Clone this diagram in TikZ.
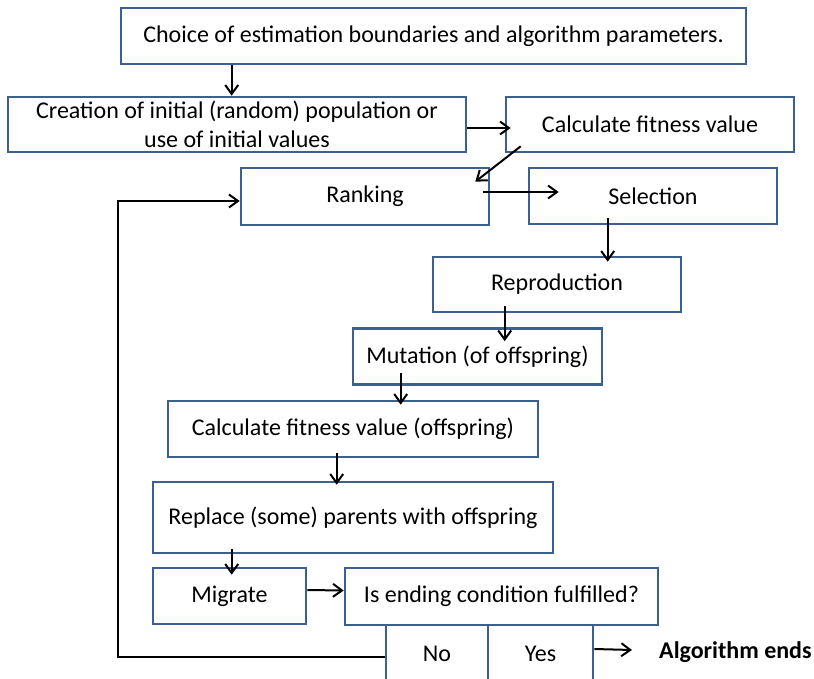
\documentclass[tikz,border=0pt]{standalone}
\usepackage{fontspec}
\setmainfont{Carlito}
\definecolor{flowblue}{HTML}{3C6090}
\usetikzlibrary{arrows.meta, positioning}

\begin{document}
\begin{tikzpicture}[x=1pt, y=-1pt, font=\fontsize{24}{29}\selectfont,
  flowbox/.style={rectangle, draw=flowblue, line width=2.6pt, fill=white,
    align=center, inner sep=0pt},
  flowarrow/.style={-{Straight Barb[length=9pt, width=13pt]}, line width=2pt}]
\useasboundingbox[fill=white] (0,0) rectangle (814,679);
% boxes
\node[flowbox, minimum width=625, minimum height=56] (choice) at (433.5,36)
  {Choice of estimation boundaries and algorithm parameters.};
\node[flowbox, minimum width=458, minimum height=55] (creation) at (237,124.5)
  {Creation of initial (random) population or\\use of initial values};
\node[flowbox, minimum width=288, minimum height=55] (fitness) at (650,124.5)
  {Calculate fitness value};
\node[flowbox, minimum width=248, minimum height=57] (ranking) at (365,196.5)
  {Ranking};
\node[flowbox, minimum width=248, minimum height=56] (selection) at (653,196)
  {Selection};
\node[flowbox, minimum width=248, minimum height=55] (reproduction) at (557,284.5)
  {Reproduction};
\node[flowbox, minimum width=249, minimum height=56] (mutation) at (477.5,356.5)
  {Mutation (of offspring)};
\node[flowbox, minimum width=370, minimum height=56] (offfitness) at (353,429)
  {Calculate fitness value (offspring)};
\node[flowbox, minimum width=400, minimum height=71] (replace) at (353,517.5)
  {Replace (some) parents with offspring};
\node[flowbox, minimum width=153, minimum height=56] (migrate) at (229.5,596)
  {Migrate};
\node[flowbox, minimum width=313, minimum height=57] (ending) at (501.5,596.5)
  {Is ending condition fulfilled?};
\node[flowbox, minimum width=102, minimum height=57] (no) at (437,653.5) {No};
\node[flowbox, minimum width=105, minimum height=57] (yes) at (540.5,653.5) {Yes};
\node[anchor=west, inner sep=0pt, font=\fontsize{24}{29}\selectfont\bfseries] (stop) at (659,652)
  {Algorithm ends};
% arrows
\draw[flowarrow] ([xshift=112]choice.south west) -- ([xshift=112]choice.south west |- creation.north);
\draw[flowarrow] ([yshift=-3.5]creation.east) -- ([xshift=6,yshift=-3.5]fitness.west);
\draw[flowarrow] ([xshift=16,yshift=7]fitness.south west) -- ([xshift=-15,yshift=-15]ranking.north east);
\draw[flowarrow] ([xshift=-7,yshift=4.5]ranking.east) -- ([xshift=31,yshift=4]selection.west);
\draw[flowarrow] ([xshift=80,yshift=7]selection.south west) -- ([xshift=80,yshift=-6]selection.south west |- reproduction.north);
\draw[flowarrow] ([xshift=73,yshift=7]reproduction.south west) -- ([xshift=73,yshift=-14]reproduction.south west |- mutation.north);
\draw[flowarrow] ([xshift=49,yshift=13]mutation.south west) -- ([xshift=49,yshift=-5]mutation.south west |- offfitness.north);
\draw[flowarrow] ([xshift=170,yshift=5]offfitness.south west) -- ([xshift=170,yshift=-4]offfitness.south west |- replace.north);
\draw[flowarrow] ([xshift=80,yshift=5]replace.south west) -- ([xshift=80,yshift=-8]replace.south west |- migrate.north);
\draw[flowarrow] ([yshift=6]migrate.east) -- ([yshift=6]ending.west);
\draw[flowarrow] ([yshift=-3.5]no.west) -| ([xshift=-122,yshift=-4.5]ranking.west) -- ([yshift=-4.5]ranking.west);
\draw[flowarrow] ([yshift=4.5]yes.east) -- ([xshift=-27,yshift=2]stop.west);
\end{tikzpicture}
\end{document}
